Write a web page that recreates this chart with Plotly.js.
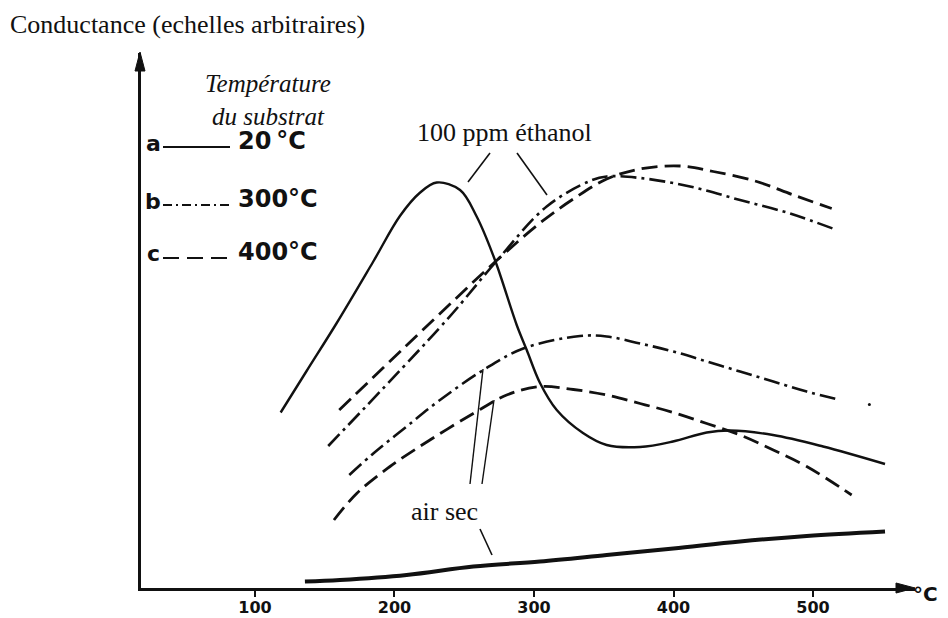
<!DOCTYPE html>
<html>
<head>
<meta charset="utf-8">
<script src="https://cdn.plot.ly/plotly-3.0.1.min.js"></script>
<style>html,body{margin:0;padding:0;background:#fff;}#chart{width:948px;height:618px;}</style>
</head>
<body>
<div id="chart"></div>
<script>
// ---- data (temperature °C, conductance in arbitrary units) ----
// a : substrate 20 °C (solid)
const x_a_ethanol = [118.4, 137, 158.6, 184.6, 203.9, 218, 230.3, 247, 258.9, 272, 287.6, 294.8, 304.3, 316.3, 335.1, 352.1, 376, 399.6, 423.8, 440.5, 471.3, 507.2, 551.6];
const y_a_ethanol = [35.1, 43.4, 53.0, 65.2, 74.4, 79.0, 81.1, 79.6, 74.3, 65.6, 52.6, 47.6, 41.0, 35.6, 31.0, 28.6, 28.2, 29.3, 31.1, 31.5, 30.6, 28.3, 24.8];
const x_a_air = [135.8, 160.9, 208.7, 256.5, 304.3, 352.1, 399.9, 447.7, 495.5, 551.6];
const y_a_air = [1.3, 1.6, 2.6, 4.3, 5.3, 6.6, 7.9, 9.3, 10.4, 11.3];
// b : substrate 300 °C (dash-dot)
const x_b_ethanol = [152.5, 237.4, 272, 309.1, 340.1, 352.1, 376, 411.8, 447.7, 483.5, 517];
const y_b_ethanol = [28.4, 53.6, 65.0, 76.3, 81.4, 82.3, 82.0, 80.3, 77.6, 74.9, 71.6];
const x_b_air = [167.6, 184.8, 208.7, 232.6, 263.7, 292.3, 333, 352.1, 376, 399.9, 423.8, 447.7, 471.5, 495.5, 518.1];
const y_b_air = [22.6, 26.9, 32.3, 37.6, 43.6, 47.9, 50.4, 50.3, 48.9, 47.3, 45.3, 43.3, 41.3, 39.3, 37.7];
const x_b_air_dot = [540.4];
const y_b_air_dot = [36.7];
// c : substrate 400 °C (dashed)
const x_c_ethanol = [160.4, 227.8, 272, 304.3, 328.2, 352.1, 376, 404.7, 428.5, 459.6, 485.9, 513.4];
const y_c_ethanol = [35.6, 53.6, 65.2, 73.0, 77.8, 81.8, 83.8, 84.4, 83.3, 81.3, 78.6, 75.9];
const x_c_air = [156.6, 172.9, 196.8, 225.4, 256.5, 280.4, 304.3, 328.2, 352.1, 376, 399.9, 423.8, 447.7, 471.5, 495.5, 527.7];
const y_c_air = [13.6, 18.9, 24.3, 29.6, 34.9, 38.6, 40.3, 39.7, 38.6, 36.9, 35.1, 32.9, 30.6, 27.6, 24.3, 18.6];

const tickVals = [100, 200, 300, 400, 500];
const tickText = ['100', '200', '300', '400', '500'];
const legendLetters = ['a', 'b', 'c'];
const legendTemps = ['20\u2009°C', '300°C', '400°C'];

// ---- styles ----
const INK = '#111';
const DASH_B = '16px,5px,3px,5px';
const DASH_C = '16px,7px';

function curve(x, y, dash, width) {
  return {x: x, y: y, type: 'scatter', mode: 'lines',
    line: {color: INK, width: width, dash: dash, shape: 'spline', smoothing: 1},
    hoverinfo: 'skip'};
}
const traces = [
  curve(x_a_ethanol, y_a_ethanol, 'solid', 2.4),
  curve(x_a_air, y_a_air, 'solid', 4),
  curve(x_b_ethanol, y_b_ethanol, DASH_B, 2.6),
  curve(x_b_air, y_b_air, DASH_B, 2.6),
  {x: x_b_air_dot, y: y_b_air_dot, type: 'scatter', mode: 'markers', marker: {color: INK, size: 3}, hoverinfo: 'skip'},
  curve(x_c_ethanol, y_c_ethanol, DASH_C, 2.8),
  curve(x_c_air, y_c_air, DASH_C, 2.8)
];

// layout helpers (pixel -> paper), plot area 141..915 x 53..588
const L = 141, R = 33, T = 53, B = 30, W = 948, H = 618;
const PW = W - L - R, PH = H - T - B;
const X = px => (px - L) / PW;
const Y = py => (H - B - py) / PH;

const serif = 'Liberation Serif, Times New Roman, serif';
const sans = 'DejaVu Sans, sans-serif';

function txt(text, px, py, opts) {
  return Object.assign({xref: 'paper', yref: 'paper', x: X(px), y: Y(py), text: text,
    showarrow: false, xanchor: 'center', yanchor: 'middle',
    font: {family: serif, size: 26, color: INK}}, opts || {});
}
function seg(x0, y0, x1, y1, w, dash) {
  return {type: 'line', xref: 'paper', yref: 'paper', x0: X(x0), y0: Y(y0), x1: X(x1), y1: Y(y1),
    line: {color: INK, width: w, dash: dash || 'solid'}};
}
function tri(p) {
  return {type: 'path', xref: 'paper', yref: 'paper', fillcolor: INK, line: {color: INK, width: 1},
    path: 'M' + p.map(q => X(q[0]) + ',' + Y(q[1])).join(' L') + ' Z'};
}

const boldSans = {family: sans, size: 24, color: INK, weight: 'bold'};
const legendRows = [147, 205, 258];
const legendDash = ['solid', '9px,4px,2px,4px', '16px,8px'];
const annotations = [
  txt('Température<br>du substrat', 268, 100, {font: {family: serif, size: 25, color: INK, style: 'italic'}}),
  txt('100 ppm éthanol', 504, 132),
  txt('air sec', 444, 511),
  txt('°C', 911, 594, {xanchor: 'left', font: {family: sans, size: 20, color: INK, weight: 'bold'}})
];
const shapes = [
  // leader lines
  seg(490, 153, 468, 182, 1.6), seg(517, 153, 547, 195, 1.6),
  seg(470, 484, 483, 369, 1.4), seg(482, 484, 494, 400, 1.4),
  seg(480, 529, 492, 555, 1.6),
  // axis arrowheads
  tri([[915, 588], [896, 583], [896, 593]]),
  tri([[140, 52], [135, 71], [145, 71]])
];
legendLetters.forEach((l, i) => {
  const cy = legendRows[i];
  annotations.push(txt(l, 153, cy - 4, {font: {family: sans, size: 22, color: INK, weight: 'bold'}}));
  annotations.push(txt(legendTemps[i], 236, cy - 6, {xanchor: 'left', font: boldSans}));
  shapes.push(seg(163, cy, 230, cy, 2, legendDash[i]));
});

const layout = {
  width: W, height: H,
  margin: {l: L, r: R, t: T, b: B, pad: 0},
  paper_bgcolor: '#fff', plot_bgcolor: '#fff',
  showlegend: false,
  title: {text: 'Conductance (echelles arbitraires)', xref: 'container', yref: 'container',
    x: 10 / W, xanchor: 'left', y: 1 - 24 / H, yanchor: 'middle',
    font: {family: serif, size: 26, color: INK}},
  xaxis: {range: [18.3, 573.1], showline: true, linewidth: 3, linecolor: INK,
    showgrid: false, zeroline: false, ticks: 'outside', ticklen: 6, tickwidth: 2, tickcolor: INK,
    ticklabelstandoff: -3,
    tickvals: tickVals, ticktext: tickText,
    tickfont: {family: sans, size: 16, color: INK, weight: 'bold'}, fixedrange: true},
  yaxis: {range: [0, 107], showline: true, linewidth: 3, linecolor: INK,
    showgrid: false, zeroline: false, showticklabels: false, ticks: '', fixedrange: true},
  annotations: annotations,
  shapes: shapes
};

Plotly.newPlot('chart', traces, layout, {staticPlot: true, displayModeBar: false});
</script>
</body>
</html>
